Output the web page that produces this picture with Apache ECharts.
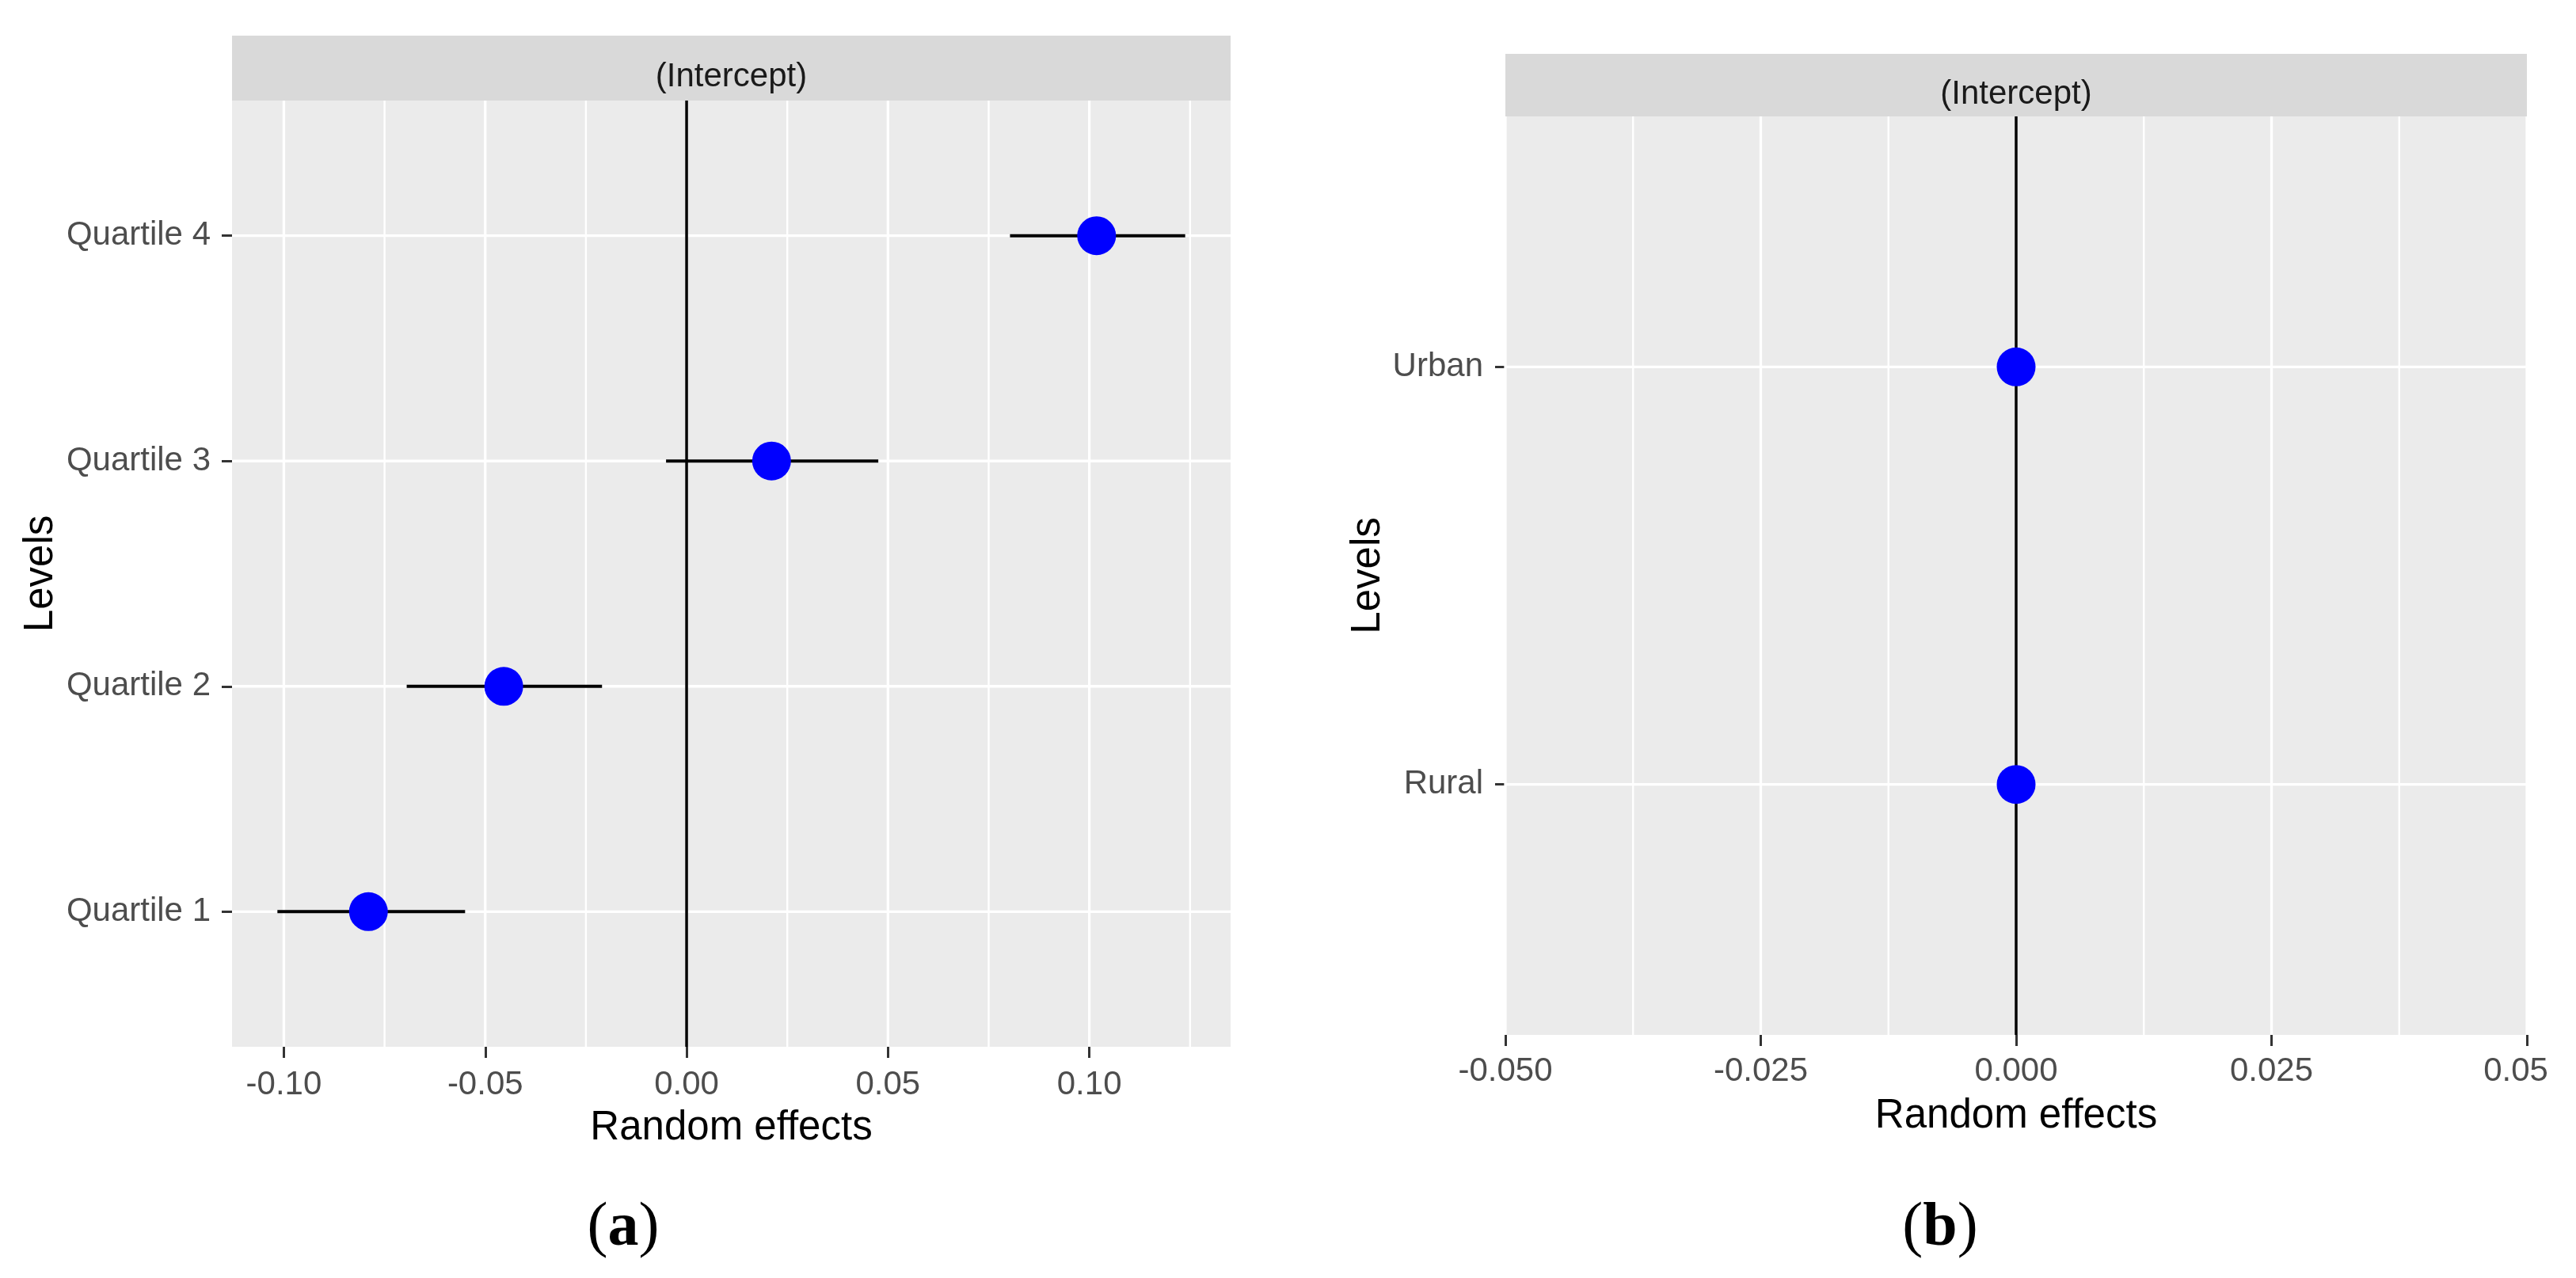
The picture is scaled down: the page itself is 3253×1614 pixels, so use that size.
<!DOCTYPE html>
<html><head><meta charset="utf-8">
<script src="https://cdn.jsdelivr.net/npm/echarts@6/dist/echarts.min.js"></script>
<style>html,body{margin:0;padding:0;background:#fff}#c{width:3253px;height:1614px}</style>
</head><body><div id="c"></div>
<script>
// ---- Panel (a) data ----
const levelsA = ['Quartile 1', 'Quartile 2', 'Quartile 3', 'Quartile 4'];
const estA  = [-0.0790, -0.0454, 0.0211, 0.1018];
const lowA  = [-0.1016, -0.0695, -0.0051, 0.0803];
const highA = [-0.0550, -0.0210, 0.0476, 0.1238];
const ticksA = [-0.10, -0.05, 0.00, 0.05, 0.10];
const tickLabelsA = ['-0.10', '-0.05', '0.00', '0.05', '0.10'];
const minorA = [-0.075, -0.025, 0.025, 0.075, 0.125];

// ---- Panel (b) data ----
const levelsB = ['Rural', 'Urban'];
const estB  = [0, 0];
const lowB  = [0, 0];
const highB = [0, 0];
const ticksB = [-0.05, -0.025, 0, 0.025, 0.05];
const tickLabelsB = ['-0.050', '-0.025', '0.000', '0.025', '0.05'];
const minorB = [-0.0375, -0.0125, 0.0125, 0.0375];

const panelTitle = '(Intercept)';
const xTitle = 'Random effects';
const yTitle = 'Levels';

// axis limits (ggplot-style 5% expansion on continuous axis, 0.6 on discrete)
const loA = Math.min(...lowA), hiA = Math.max(...highA);
const padA = 0.05 * (hiA - loA);
const xMinA = loA - padA, xMaxA = hiA + padA;
const xMinB = -0.05, xMaxB = 0.05;

const SANS = '"Liberation Sans", Arial, sans-serif';
const SERIF = '"Liberation Serif", "Times New Roman", serif';

const chart = echarts.init(document.getElementById('c'), null, {renderer: 'canvas'});

function xAxisCfg(grid, min, max, ticks, labels, margin) {
  return {
    type: 'value', gridIndex: grid, min: min, max: max,
    axisLine: {show: false, onZero: false},
    splitLine: {show: false}, minorSplitLine: {show: false},
    axisTick: {show: true, length: 14, customValues: ticks, lineStyle: {color: '#333333', width: 3}},
    axisLabel: {
      customValues: ticks, fontSize: 42, fontFamily: SANS, color: '#4D4D4D', margin: margin,
      formatter: function (v) {
        let idx = ticks.findIndex(t => Math.abs(t - v) < 1e-9);
        let s = idx >= 0 ? labels[idx] : '';
        if (idx === ticks.length - 1 && grid === 1) return '{s|' + s + '}';
        return s;
      },
      rich: {s: {fontSize: 42, fontFamily: SANS, color: '#4D4D4D', padding: [0, 28, 0, 0]}}
    },
    name: xTitle, nameLocation: 'middle', nameGap: 77,
    nameTextStyle: {fontSize: 51, fontFamily: SANS, color: '#000000'}
  };
}
function yAxisCfg(grid, cats, margin, nameGap) {
  const pos = cats.map((c, i) => i + 1);
  return {
    type: 'value', gridIndex: grid, min: 0.4, max: cats.length + 0.6,
    axisLine: {show: false, onZero: false},
    splitLine: {show: false},
    axisTick: {show: true, length: 13, customValues: pos, lineStyle: {color: '#333333', width: 3}},
    axisLabel: {
      customValues: pos, fontSize: 42, fontFamily: SANS, color: '#4D4D4D', margin: margin,
      formatter: v => cats[Math.round(v) - 1] || ''
    },
    name: yTitle, nameLocation: 'middle', nameGap: nameGap,
    nameTextStyle: {fontSize: 51, fontFamily: SANS, color: '#000000'}
  };
}
function vLines(grid, vals, color, width, z) {
  return {
    type: 'custom', xAxisIndex: grid, yAxisIndex: grid, z: z, silent: true, animation: false,
    data: vals.map(v => [v, 1]), encode: {x: 0, y: 1},
    renderItem: function (params, api) {
      const cs = params.coordSys;
      const x = api.coord([api.value(0), 1])[0];
      return {type: 'line', shape: {x1: x, y1: cs.y, x2: x, y2: cs.y + cs.height},
              style: {stroke: color, lineWidth: width}};
    }
  };
}
function hLines(grid, cats, color, width, z) {
  return {
    type: 'custom', xAxisIndex: grid, yAxisIndex: grid, z: z, silent: true, animation: false,
    data: cats.map((c, i) => [0, i + 1]), encode: {x: 0, y: 1},
    renderItem: function (params, api) {
      const cs = params.coordSys;
      const y = api.coord([0, api.value(1)])[1];
      return {type: 'line', shape: {x1: cs.x, y1: y, x2: cs.x + cs.width, y2: y},
              style: {stroke: color, lineWidth: width}};
    }
  };
}
function errBars(grid, low, high) {
  return {
    type: 'custom', xAxisIndex: grid, yAxisIndex: grid, z: 4, silent: true, animation: false,
    data: low.map((l, i) => [l, high[i], i + 1]), encode: {x: [0, 1], y: 2},
    renderItem: function (params, api) {
      const p1 = api.coord([api.value(0), api.value(2)]);
      const p2 = api.coord([api.value(1), api.value(2)]);
      return {type: 'line', shape: {x1: p1[0], y1: p1[1], x2: p2[0], y2: p2[1]},
              style: {stroke: '#000000', lineWidth: 4}};
    }
  };
}
function points(grid, est) {
  return {
    type: 'scatter', xAxisIndex: grid, yAxisIndex: grid, z: 5, silent: true, animation: false,
    symbol: 'circle', symbolSize: 49, itemStyle: {color: '#0000FF', opacity: 1},
    data: est.map((v, i) => [v, i + 1])
  };
}

const option = {
  backgroundColor: '#ffffff',
  animation: false,
  grid: [
    {left: 293, top: 127, width: 1261, height: 1195, show: true, backgroundColor: '#EBEBEB',
     borderWidth: 0, borderColor: 'transparent', containLabel: false, outerBoundsMode: 'none'},
    {left: 1901, top: 147, width: 1290, height: 1160, show: true, backgroundColor: '#EBEBEB',
     borderWidth: 0, borderColor: 'transparent', containLabel: false, outerBoundsMode: 'none'}
  ],
  xAxis: [xAxisCfg(0, xMinA, xMaxA, ticksA, tickLabelsA, 27), xAxisCfg(1, xMinB, xMaxB, ticksB, tickLabelsB, 25)],
  yAxis: [yAxisCfg(0, levelsA, 27, 216), yAxisCfg(1, levelsB, 28, 148)],
  series: [
    vLines(0, minorA, '#FFFFFF', 2.4, 1),
    vLines(0, ticksA, '#FFFFFF', 3.3, 1),
    hLines(0, levelsA, '#FFFFFF', 3.3, 1),
    vLines(0, [0], '#000000', 3.5, 3),
    errBars(0, lowA, highA),
    points(0, estA),
    vLines(1, minorB, '#FFFFFF', 2.4, 1),
    vLines(1, ticksB, '#FFFFFF', 3.3, 1),
    hLines(1, levelsB, '#FFFFFF', 3.3, 1),
    vLines(1, [0], '#000000', 3.5, 3),
    errBars(1, lowB, highB),
    points(1, estB)
  ],
  graphic: [
    {type: 'rect', shape: {x: 293, y: 45, width: 1261, height: 82}, style: {fill: '#D9D9D9'}, silent: true},
    {type: 'text', x: 923.5, y: 97, silent: true,
     style: {text: panelTitle, font: '42px ' + SANS, fill: '#1A1A1A', align: 'center', verticalAlign: 'middle'}},
    {type: 'rect', shape: {x: 1901, y: 68, width: 1290, height: 79}, style: {fill: '#D9D9D9'}, silent: true},
    {type: 'text', x: 2546, y: 119, silent: true,
     style: {text: panelTitle, font: '42px ' + SANS, fill: '#1A1A1A', align: 'center', verticalAlign: 'middle'}},
    {type: 'text', x: 787, y: 1552, silent: true,
     style: {text: '{n|(}{b|a}{n|)}', align: 'center', verticalAlign: 'middle', fill: '#000',
       rich: {n: {fontSize: 78, fontFamily: SERIF, fill: '#000'}, b: {fontSize: 78, fontFamily: SERIF, fontWeight: 'bold', fill: '#000'}}}},
    {type: 'text', x: 2450, y: 1552, silent: true,
     style: {text: '{n|(}{b|b}{n|)}', align: 'center', verticalAlign: 'middle', fill: '#000',
       rich: {n: {fontSize: 78, fontFamily: SERIF, fill: '#000'}, b: {fontSize: 78, fontFamily: SERIF, fontWeight: 'bold', fill: '#000'}}}}
  ]
};
chart.setOption(option);
</script>
</body></html>
